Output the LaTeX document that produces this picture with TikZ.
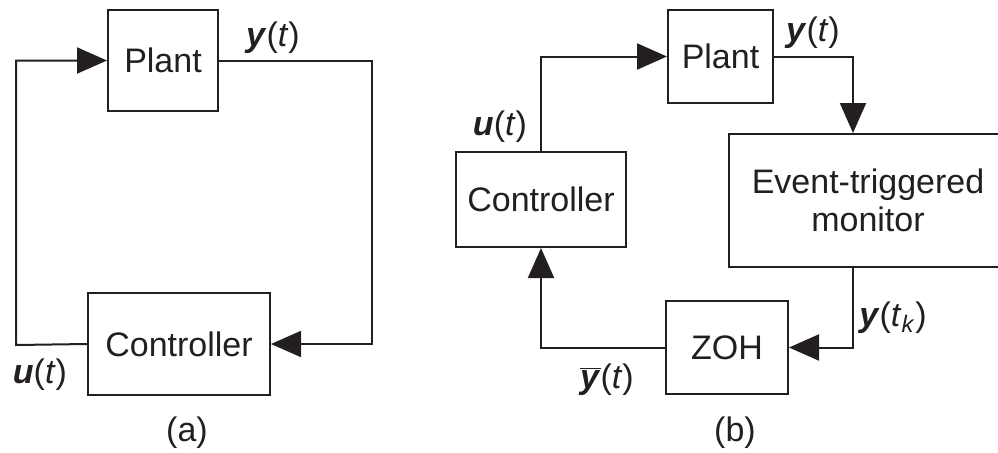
\documentclass[tikz,border=0pt]{standalone}
\usepackage{fontspec}
\setmainfont{Liberation Sans}
\usetikzlibrary{arrows.meta}
\definecolor{tinte}{HTML}{231F20}
\tikzset{
  block/.style={draw=tinte, line width=1pt, text=tinte, inner sep=0pt},
  sig/.style={draw=tinte, line width=1pt, -{Triangle[length=15pt, width=13pt]}},
  lbl/.style={text=tinte, inner sep=0pt}
}
\begin{document}
\begin{tikzpicture}[x=0.5pt, y=-0.5pt, font=\fontsize{17}{19}\selectfont]
  \clip (0,0) rectangle (998,452);

  % Teil (a)
  \node[block, minimum width=55pt, minimum height=50.5pt] (plantA) at (163,60.5) {Plant};
  \node[block, minimum width=91pt, minimum height=51pt] (ctrlA) at (179,344) {Controller};
  \coordinate (leftA) at (16,345);
  \coordinate (rightA) at (372,200);
  \draw[sig] (ctrlA.west) -- (leftA) |- (plantA.west);
  \draw[sig] (plantA.east) -| (rightA) |- (ctrlA.east);
  \node[lbl] (yA) at (273,38) {\textbf{\textit{y}}(\textit{t})};
  \node[lbl] (uA) at (40,375) {\textbf{\textit{u}}(\textit{t})};
  \node[lbl] (capA) at (187,433) {(a)};

  % Teil (b)
  \node[block, minimum width=52.5pt, minimum height=46.5pt] (plantB) at (720.5,56.5) {Plant};
  \node[block, minimum width=85pt, minimum height=47.5pt] (ctrlB) at (541,199.5) {Controller};
  \node[block, minimum width=139pt, minimum height=66.5pt, align=center] (monB) at (868,200.5)
    {Event-triggered\\monitor};
  \node[block, minimum width=61pt, minimum height=46.5pt] (zohB) at (727,347.5) {ZOH};
  \draw[sig] (ctrlB.north) |- (plantB.west);
  \draw[sig] (plantB.east) -| ([xshift=-7.5pt]monB.north);
  \draw[sig] ([xshift=-7.5pt]monB.south) |- (zohB.east);
  \draw[sig] (zohB.west) -| (ctrlB.south);
  \node[lbl] (uB) at (500,127) {\textbf{\textit{u}}(\textit{t})};
  \node[lbl] (yB) at (813,33) {\textbf{\textit{y}}(\textit{t})};
  \node[lbl] (ykB) at (893,318) {\textbf{\textit{y}}(\textit{t}\textsubscript{\textit{k}})};
  \node[lbl] (ybarB) at (607,380) {$\overline{\mbox{\textbf{\textit{y}}}}$(\textit{t})};
  \node[lbl] (capB) at (735,433) {(b)};
\end{tikzpicture}
\end{document}
